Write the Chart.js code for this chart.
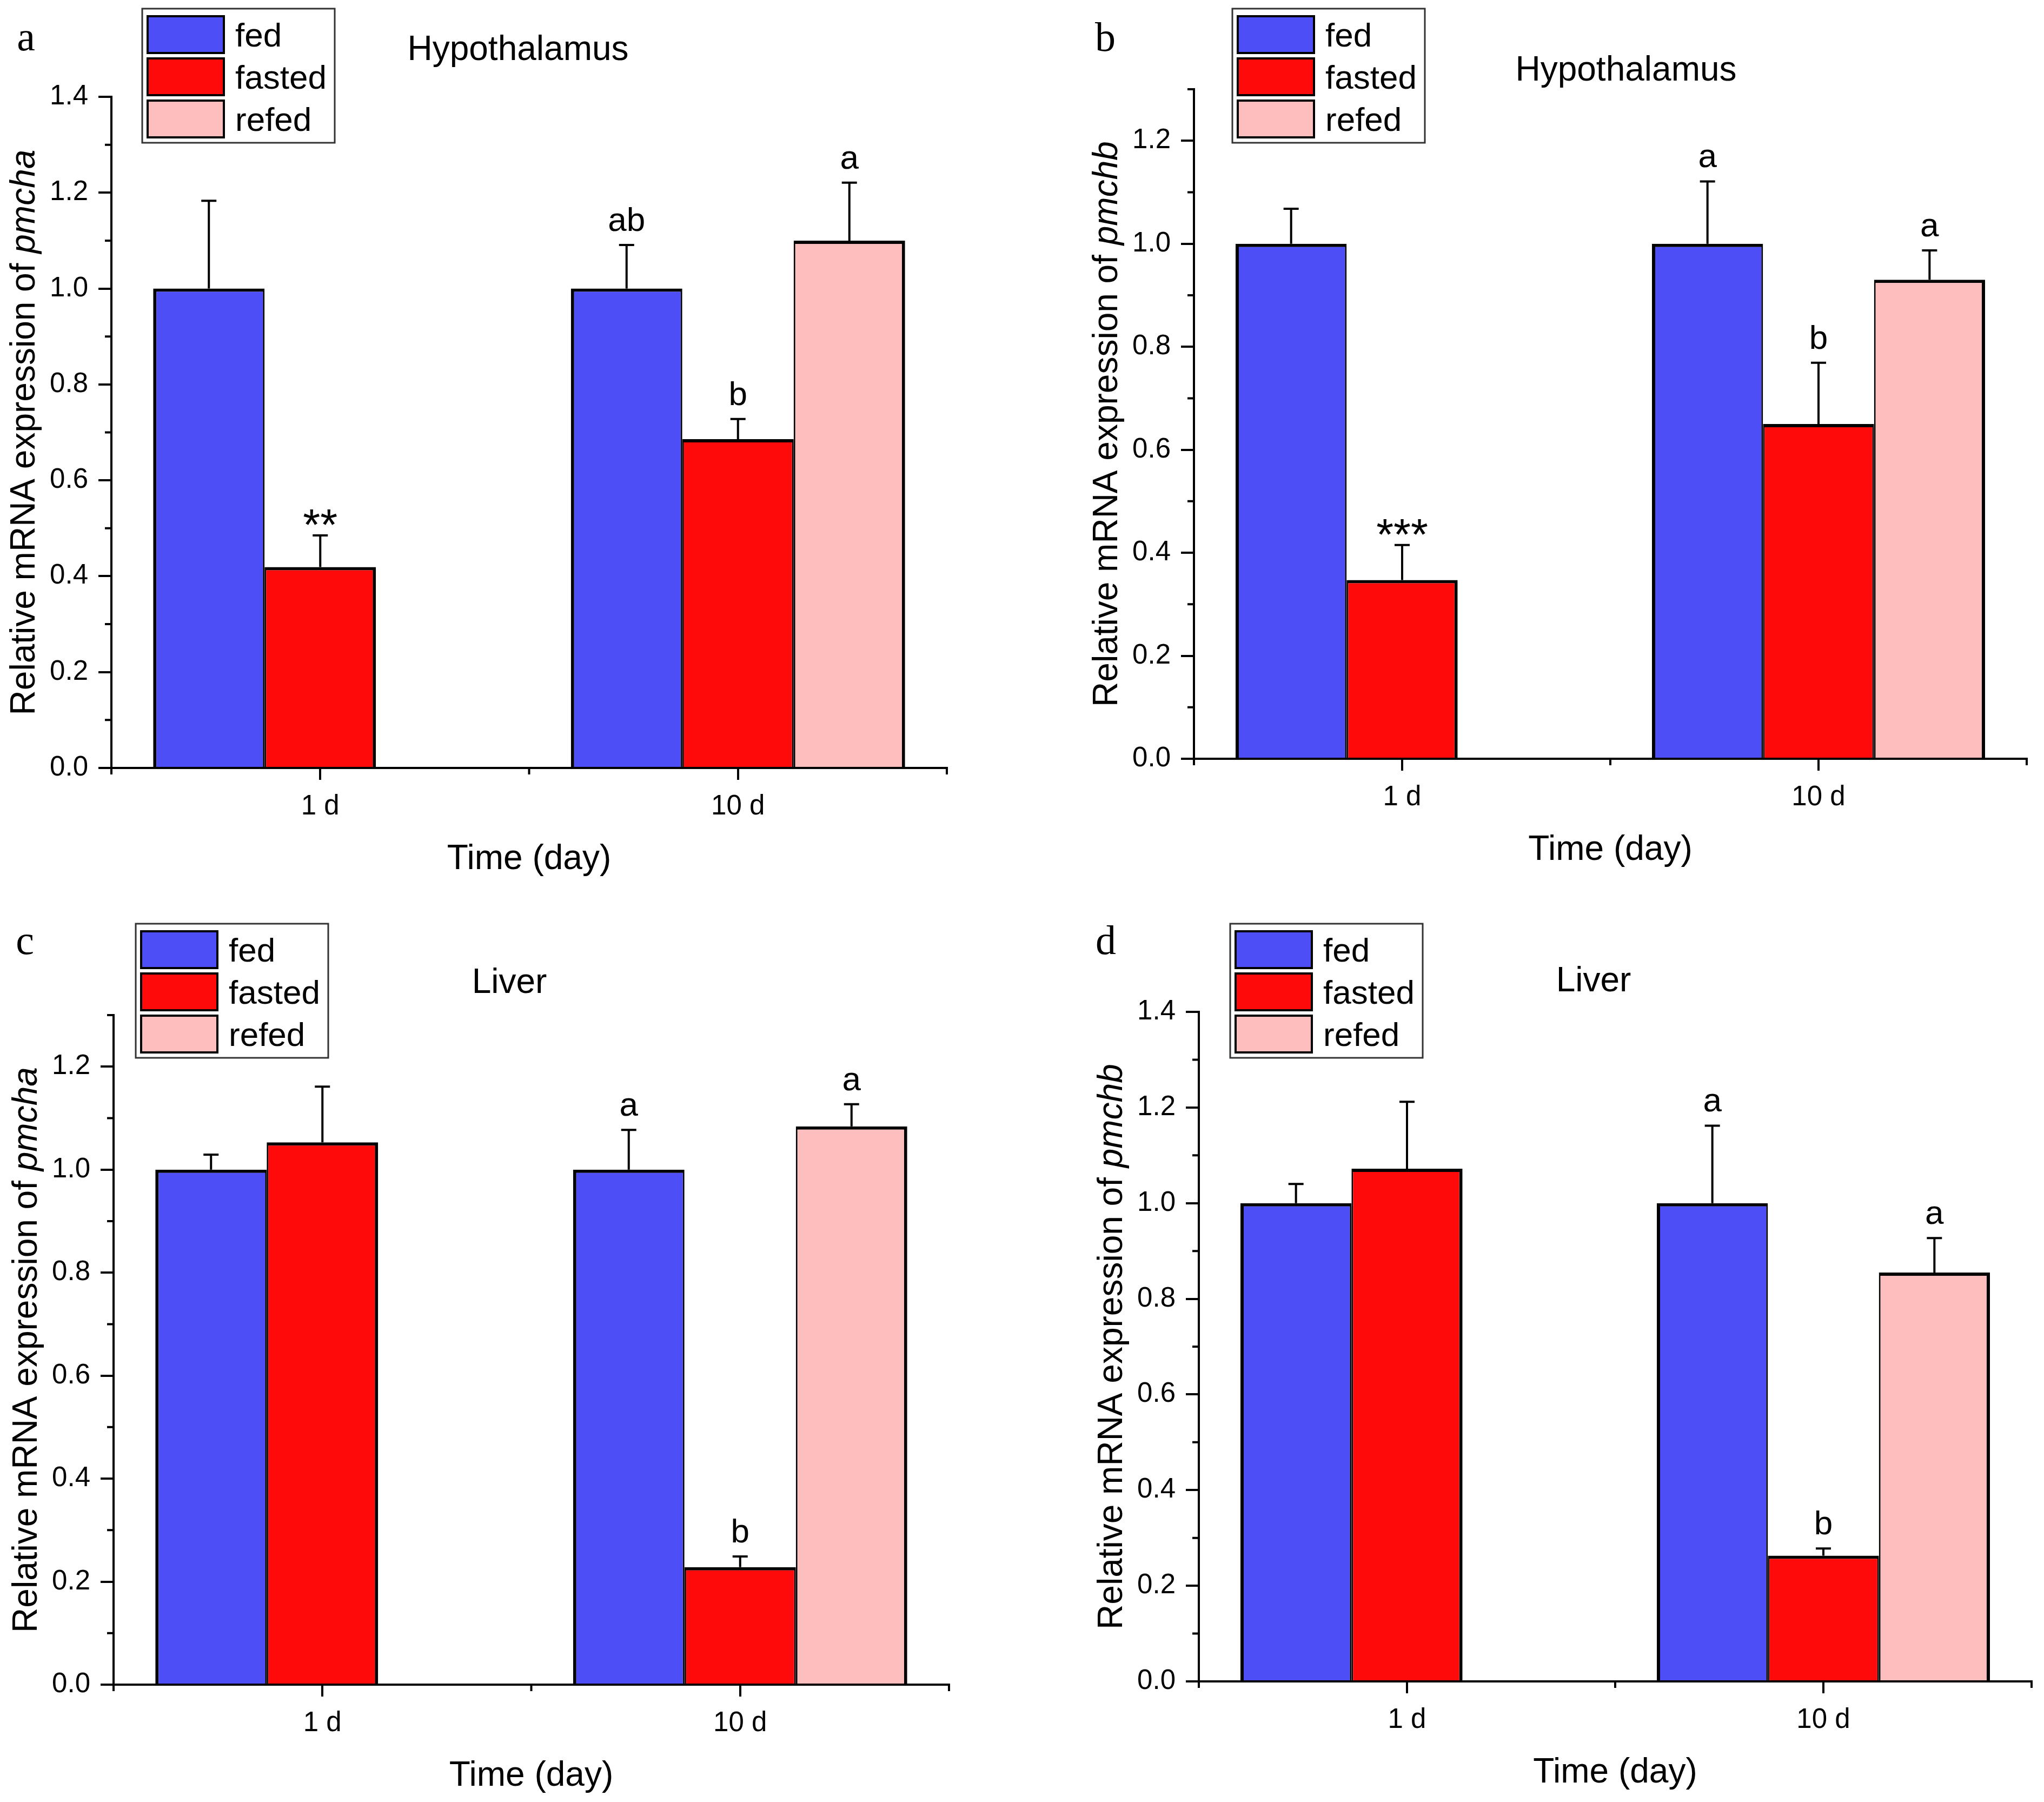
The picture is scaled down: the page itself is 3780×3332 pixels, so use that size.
<!DOCTYPE html>
<html>
<head>
<meta charset="utf-8">
<script src="https://cdn.jsdelivr.net/npm/chart.js@4.4.1/dist/chart.umd.min.js"></script>
<style>
html, body { margin: 0; padding: 0; background: #fff; }
#page { position: relative; width: 3780px; height: 3332px; }
canvas { position: absolute; }
</style>
</head>
<body>
<div id="page">
  <canvas id="chartA" width="1890" height="1666" style="left:0;top:0"></canvas>
  <canvas id="chartB" width="1890" height="1666" style="left:1890px;top:0"></canvas>
  <canvas id="chartC" width="1890" height="1666" style="left:0;top:1666px"></canvas>
  <canvas id="chartD" width="1890" height="1666" style="left:1890px;top:1666px"></canvas>
</div>
<script>
const categories = ["1 d", "10 d"];
const groups = ["fed", "fasted", "refed"];
const groupColors = ["rgb(78,78,246)", "rgb(255,10,10)", "rgb(255,190,190)"];

// a: hypothalamus, pmcha
const aFed = [1.00, 1.00];
const aFedErr = [0.183, 0.091];
const aFasted = [0.419, 0.686];
const aFastedErr = [0.066, 0.042];
const aRefed = [null, 1.100];
const aRefedErr = [null, 0.121];
const aMarks = [["", "ab"], ["**", "b"], ["", "a"]];

// b: hypothalamus, pmchb
const bFed = [1.00, 1.00];
const bFedErr = [0.068, 0.121];
const bFasted = [0.347, 0.650];
const bFastedErr = [0.068, 0.119];
const bRefed = [null, 0.930];
const bRefedErr = [null, 0.057];
const bMarks = [["", "a"], ["***", "b"], ["", "a"]];

// c: liver, pmcha
const cFed = [1.00, 1.00];
const cFedErr = [0.029, 0.077];
const cFasted = [1.053, 0.228];
const cFastedErr = [0.108, 0.021];
const cRefed = [null, 1.084];
const cRefedErr = [null, 0.043];
const cMarks = [["", "a"], ["", "b"], ["", "a"]];

// d: liver, pmchb
const dFed = [1.00, 1.00];
const dFedErr = [0.040, 0.162];
const dFasted = [1.072, 0.263];
const dFastedErr = [0.140, 0.015];
const dRefed = [null, 0.855];
const dRefedErr = [null, 0.072];
const dMarks = [["", "a"], ["", "b"], ["", "a"]];

const yTicks = [0, 0.2, 0.4, 0.6, 0.8, 1.0, 1.2, 1.4];

const FONT = '"Liberation Sans", Arial, sans-serif';
const SERIF = '"Liberation Serif", "Times New Roman", serif';
const W = 1890, H = 1666;
const Y_WIDTH = 150, X_HEIGHT = 208;

Chart.defaults.font.family = FONT;
Chart.defaults.color = "#000";

function borderFor(ctx) {
    const sets = ctx.chart.data.datasets;
    const i = ctx.dataIndex;
    let last = 0;
    sets.forEach((s, k) => { if (s.data[i] != null) last = k; });
    return {
        top: 6,
        left: ctx.datasetIndex === 0 ? 6 : 3,
        right: ctx.datasetIndex === last ? 6 : 3,
        bottom: 0
    };
}

// error bars, marks, legend, titles, minor ticks
function decorPlugin(p) {
    return {
        id: "decor",
        afterDatasetsDraw(chart) {
            const ctx = chart.ctx;
            const y = chart.scales.y;
            ctx.save();
            ctx.strokeStyle = "#000";
            ctx.fillStyle = "#000";
            ctx.lineWidth = 4;
            chart.data.datasets.forEach((ds, k) => {
                const meta = chart.getDatasetMeta(k);
                ds.data.forEach((v, i) => {
                    if (v == null) return;
                    const bar = meta.data[i];
                    const yTop = y.getPixelForValue(v + p.errors[k][i]);
                    ctx.beginPath();
                    ctx.moveTo(bar.x, bar.y);
                    ctx.lineTo(bar.x, yTop);
                    ctx.moveTo(bar.x - 14, yTop);
                    ctx.lineTo(bar.x + 14, yTop);
                    ctx.stroke();
                    const mark = p.marks[k][i];
                    if (mark) {
                        ctx.textAlign = "center";
                        ctx.textBaseline = "alphabetic";
                        if (mark.includes("*")) {
                            ctx.font = "82px " + FONT;
                            ctx.fillText(mark, bar.x, yTop + 8);
                        } else {
                            ctx.font = "62px " + FONT;
                            ctx.fillText(mark, bar.x, yTop - 26);
                        }
                    }
                });
            });
            ctx.restore();
        },
        afterDraw(chart) {
            const ctx = chart.ctx;
            const area = chart.chartArea;
            const x = chart.scales.x, y = chart.scales.y;
            ctx.save();
            ctx.strokeStyle = "#000";
            ctx.lineWidth = 4;

            // minor ticks
            ctx.beginPath();
            for (let k = 1; k / 10 <= p.yMax + 1e-9; k += 2) {
                const py = y.getPixelForValue(k / 10);
                ctx.moveTo(area.left - 12, py);
                ctx.lineTo(area.left, py);
            }
            [-0.5, 0.5, 1.5].forEach(v => {
                const px = x.getPixelForValue(v);
                ctx.moveTo(px, area.bottom);
                ctx.lineTo(px, area.bottom + 12);
            });
            ctx.stroke();

            // y title with italic gene name
            const cy = (area.top + area.bottom) / 2;
            ctx.translate(area.left - 160, cy);
            ctx.rotate(-Math.PI / 2);
            ctx.textBaseline = "middle";
            ctx.textAlign = "left";
            const plain = "Relative mRNA expression of ";
            ctx.font = "64px " + FONT;
            const w1 = ctx.measureText(plain).width;
            ctx.font = "italic 64px " + FONT;
            const w2 = ctx.measureText(p.gene).width;
            ctx.fillStyle = "#000";
            ctx.font = "64px " + FONT;
            ctx.fillText(plain, -(w1 + w2) / 2, 0);
            ctx.font = "italic 64px " + FONT;
            ctx.fillText(p.gene, -(w1 + w2) / 2 + w1, 0);
            ctx.setTransform(1, 0, 0, 1, 0, 0);

            // panel title and letter
            ctx.textAlign = "center";
            ctx.textBaseline = "alphabetic";
            ctx.font = "64px " + FONT;
            ctx.fillText(p.title, p.titleX, p.titleY);
            ctx.font = "76px " + SERIF;
            ctx.fillText(p.letter, p.letterX, p.letterY);

            // legend
            const lx = p.legendX, ly = p.legendY;
            ctx.fillStyle = "#fff";
            ctx.fillRect(lx, ly, 356, 248);
            ctx.strokeStyle = "#333";
            ctx.lineWidth = 3;
            ctx.strokeRect(lx, ly, 356, 248);
            chart.data.datasets.forEach((ds, i) => {
                const sy = ly + 12 + i * 78;
                ctx.fillStyle = ds.backgroundColor;
                ctx.fillRect(lx + 8, sy, 145, 72);
                ctx.strokeStyle = "#000";
                ctx.lineWidth = 4;
                ctx.strokeRect(lx + 10, sy + 2, 141, 68);
                ctx.fillStyle = "#000";
                ctx.textAlign = "left";
                ctx.font = "62px " + FONT;
                ctx.fillText(ds.label, lx + 172, sy + 58);
            });
            ctx.restore();
        }
    };
}

function makeChart(id, p) {
    const values = [p.fed, p.fasted, p.refed];
    return new Chart(document.getElementById(id), {
        type: "bar",
        data: {
            labels: categories,
            datasets: groups.map((g, k) => ({
                label: g,
                data: values[k],
                backgroundColor: groupColors[k],
                borderColor: "#000",
                borderWidth: borderFor,
                borderSkipped: "start",
                barPercentage: 1.0,
                categoryPercentage: 0.8
            }))
        },
        options: {
            responsive: false,
            animation: false,
            devicePixelRatio: 1,
            layout: {
                padding: {
                    left: p.area.left - Y_WIDTH,
                    top: p.area.top,
                    right: W - p.area.right,
                    bottom: H - p.area.bottom - X_HEIGHT
                }
            },
            plugins: {
                legend: { display: false },
                title: { display: false },
                tooltip: { enabled: false }
            },
            scales: {
                x: {
                    offset: true,
                    grid: { display: true, offset: false, drawOnChartArea: false, tickLength: 22, color: "#000", lineWidth: 4 },
                    border: { display: true, color: "#000", width: 4 },
                    ticks: { color: "#000", font: { size: 51 }, padding: 19, maxRotation: 0 },
                    title: { display: true, text: "Time (day)", color: "#000", font: { size: 64 }, padding: 0 },
                    afterFit: s => { s.height = X_HEIGHT; }
                },
                y: {
                    min: 0,
                    max: p.yMax,
                    afterBuildTicks: s => {
                        s.ticks = yTicks.filter(v => v <= p.yMax + 1e-9).map(v => ({ value: v }));
                    },
                    ticks: { color: "#000", font: { size: 51 }, padding: 19, callback: v => v.toFixed(1) },
                    grid: { drawOnChartArea: false, tickLength: 24, color: "#000", lineWidth: 4 },
                    border: { display: true, color: "#000", width: 4 },
                    afterFit: s => { s.width = Y_WIDTH; }
                }
            }
        },
        plugins: [decorPlugin(p)]
    });
}

makeChart("chartA", {
    fed: aFed, fasted: aFasted, refed: aRefed,
    errors: [aFedErr, aFastedErr, aRefedErr], marks: aMarks,
    yMax: 1.4, gene: "pmcha", title: "Hypothalamus", letter: "a",
    area: { left: 206, top: 179, right: 1751, bottom: 1420 },
    titleX: 958, titleY: 111, letterX: 48, letterY: 93, legendX: 263, legendY: 16
});
makeChart("chartB", {
    fed: bFed, fasted: bFasted, refed: bRefed,
    errors: [bFedErr, bFastedErr, bRefedErr], marks: bMarks,
    yMax: 1.3, gene: "pmchb", title: "Hypothalamus", letter: "b",
    area: { left: 318, top: 165, right: 1858, bottom: 1403 },
    titleX: 1117, titleY: 149, letterX: 154, letterY: 94, legendX: 389, legendY: 16
});
makeChart("chartC", {
    fed: cFed, fasted: cFasted, refed: cRefed,
    errors: [cFedErr, cFastedErr, cRefedErr], marks: cMarks,
    yMax: 1.3, gene: "pmcha", title: "Liver", letter: "c",
    area: { left: 210, top: 211, right: 1755, bottom: 1449 },
    titleX: 942, titleY: 170, letterX: 46, letterY: 98, legendX: 251, legendY: 42
});
makeChart("chartD", {
    fed: dFed, fasted: dFasted, refed: dRefed,
    errors: [dFedErr, dFastedErr, dRefedErr], marks: dMarks,
    yMax: 1.4, gene: "pmchb", title: "Liver", letter: "d",
    area: { left: 327, top: 205, right: 1867, bottom: 1443 },
    titleX: 1057, titleY: 167, letterX: 155, letterY: 98, legendX: 385, legendY: 42
});
</script>
</body>
</html>
